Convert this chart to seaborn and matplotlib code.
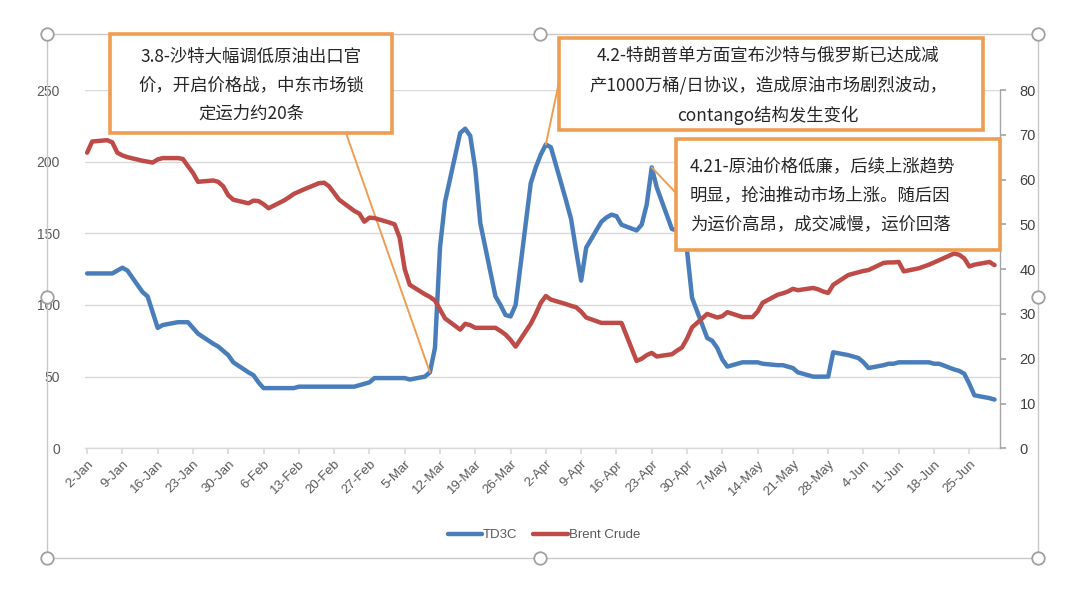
import numpy as np
import pandas as pd
import matplotlib
matplotlib.use("Agg")
import matplotlib.pyplot as plt
import seaborn as sns
from matplotlib.patches import Rectangle
from matplotlib.lines import Line2D

# ---------------- data ----------------
dates = pd.bdate_range("2020-01-02", "2020-06-30")

td3c_jan = [122, 122, 122, 122, 124, 126, 124, 109, 106, 95, 84, 86, 88, 88, 88, 84, 80, 73, 71, 68, 65, 60]
td3c_feb = [53, 51, 46, 42, 42, 42, 42, 42, 43, 43, 43, 43, 43, 43, 43, 43, 44, 45, 46, 49]
td3c_mar = [49, 49, 49, 49, 48, 50, 53, 70, 140, 172, 220, 223, 218, 195, 157, 106, 100, 93, 92, 100, 185, 196]
td3c_apr = [205, 212, 210, 173, 160, 138, 117, 140, 158, 161, 163, 162, 156, 152, 156, 170, 196, 182, 153, 152, 150, 138]
td3c_may = [105, 77, 75, 70, 62, 57, 60, 60, 60, 60, 59, 58, 58, 57, 56, 53, 50, 50, 50, 50, 67]
td3c_jun = [65, 64, 63, 60, 56, 58, 59, 59, 60, 60, 60, 60, 60, 59, 59, 55, 54, 52, 45, 37, 35, 34]

brent_jan = [66, 68.5, 68.8, 68.3, 66, 65.4, 65, 64.2, 64, 63.8, 64.5, 64.8, 64.8, 64.6, 63, 61.5, 59.5, 59.8, 59.5, 58.5, 56.5, 55.5]
brent_feb = [54.7, 55.3, 55.2, 54.5, 53.6, 55.3, 56, 56.8, 57.3, 57.8, 59.2, 59.3, 58.5, 57, 55.5, 53, 52.4, 50.6, 51.5, 51.4]
brent_mar = [50.4, 50, 47, 40, 36.5, 34.4, 33.8, 33, 31, 29, 26.5, 27.8, 27.5, 26.9, 26.9, 26.9, 26.2, 25.4, 24.2, 22.7, 27.8, 30]
brent_apr = [32.5, 34, 33.2, 32.2, 31.8, 31.5, 30.5, 29.2, 28, 28, 28, 28, 28, 19.5, 20, 20.8, 21.3, 20.5, 21, 21.8, 22.5, 24.5]
brent_may = [27, 30, 29.6, 29.2, 29.5, 30.4, 29.3, 29.3, 29.3, 30.5, 32.5, 34.3, 34.6, 35, 35.6, 35.3, 35.8, 35.5, 35, 34.7, 36.5]
brent_jun = [38.7, 39, 39.3, 39.6, 39.8, 41.4, 41.5, 41.5, 41.6, 39.5, 40.2, 40.6, 41, 41.5, 42, 43.5, 43.2, 42.4, 40.6, 41, 41.6, 40.9]

td3c = td3c_jan + td3c_feb + td3c_mar + td3c_apr + td3c_may + td3c_jun
brent = brent_jan + brent_feb + brent_mar + brent_apr + brent_may + brent_jun

left_ticks = [0, 50, 100, 150, 200, 250]
right_ticks = [0, 10, 20, 30, 40, 50, 60, 70, 80]
xtick_dates = pd.date_range("2020-01-02", "2020-06-25", freq="7D")
xtick_labels = [f"{d.day}-{d.strftime('%b')}" for d in xtick_dates]

series_names = ["TD3C", "Brent Crude"]

note1 = "3.8-沙特大幅调低原油出口官\n价，开启价格战，中东市场锁\n定运力约20条"
note2 = "4.2-特朗普单方面宣布沙特与俄罗斯已达成减\n产1000万桶/日协议，造成原油市场剧烈波动，\ncontango结构发生变化"
note3 = "4.21-原油价格低廉，后续上涨趋势\n明显，抢油推动市场上涨。随后因\n为运价高昂，成交减慢，运价回落"
note_dates = ["2020-03-10", "2020-04-02", "2020-04-23"]

df = pd.DataFrame({"date": dates, "TD3C": td3c, "Brent Crude": brent})

# ---------------- style ----------------
sns.set_theme(style="white")
plt.rcParams["font.family"] = ["Liberation Sans", "DejaVu Sans"]
CJK = ["Noto Sans CJK SC", "DejaVu Sans"]

W, H = 1080, 595
BLUE = "#4A7EBB"
RED = "#BE4B48"
ORANGE = "#EE9D52"
GREY_TXT = "#595959"
GRID = "#D9D9D9"


def fx(px):
    return px / W


def fy(py):
    return 1 - py / H


fig = plt.figure(figsize=(W / 100, H / 100), dpi=100)
ax = fig.add_axes([fx(85), fy(448.3), (1000 - 85) / W, (448.3 - 90) / H])
ax2 = ax.twinx()

sns.lineplot(data=df, x="date", y="TD3C", ax=ax, color=BLUE, linewidth=3.2, legend=False)
sns.lineplot(data=df, x="date", y="Brent Crude", ax=ax2, color=RED, linewidth=3.2, legend=False)

ax.set_ylim(0, 250)
ax2.set_ylim(0, 80)
ax.set_xlim(pd.Timestamp("2020-01-01 14:00"), pd.Timestamp("2020-07-01 02:00"))

ax.set_yticks(left_ticks)
ax.set_yticklabels([str(t) for t in left_ticks])
ax2.set_yticks(right_ticks)
ax2.set_yticklabels([str(t) for t in right_ticks])
ax.set_xticks(xtick_dates)
ax.set_xticklabels(xtick_labels, rotation=45, ha="right", rotation_mode="anchor")

ax.set_xlabel("")
ax.set_ylabel("")
ax2.set_ylabel("")

ax.grid(axis="y", color=GRID, linewidth=1.0)
ax.set_axisbelow(True)
for s in ["top", "right", "left"]:
    ax.spines[s].set_visible(False)
ax.spines["bottom"].set_color(GRID)
ax.spines["bottom"].set_linewidth(1.0)
for s in ["top", "left", "bottom"]:
    ax2.spines[s].set_visible(False)
ax2.spines["right"].set_color("#A6A6A6")
ax2.spines["right"].set_linewidth(1.0)

ax.tick_params(axis="x", colors=GRID, labelcolor=GREY_TXT, labelsize=9.5, length=4, pad=3, direction="out", bottom=True)
ax.tick_params(axis="y", left=False, labelcolor=GREY_TXT, labelsize=10, pad=12)
ax2.tick_params(axis="y", right=True, colors="#A6A6A6", labelcolor="#404040", labelsize=10.5, length=4, pad=10)

# ---------------- legend ----------------
handles = [Line2D([], [], color=BLUE, lw=3.2), Line2D([], [], color=RED, lw=3.2)]
leg = fig.legend(handles, series_names, loc="center", bbox_to_anchor=(fx(544), fy(535)), ncol=2,
                 frameon=False, fontsize=9.5, handlelength=2.6, handletextpad=0.1, columnspacing=1.2)
for t in leg.get_texts():
    t.set_color(GREY_TXT)

# ---------------- selection frame ----------------
fig.add_artist(Rectangle((fx(47), fy(558)), (1038 - 47) / W, (558 - 34) / H, transform=fig.transFigure,
                         fill=False, edgecolor="#C8C8C8", linewidth=1.0, zorder=0.5))
hx = [47, 540, 1038, 47, 1038, 47, 540, 1038]
hy = [34, 34, 34, 297, 297, 558, 558, 558]
fig.add_artist(Line2D([fx(v) for v in hx], [fy(v) for v in hy], transform=fig.transFigure, ls="none",
                      marker="o", markersize=9, markerfacecolor="white", markeredgecolor="#A0A0A0",
                      markeredgewidth=1.3, zorder=6))

# ---------------- annotations ----------------
boxes = [
    (110, 34, 392, 133),
    (559, 38, 983, 130),
    (676, 139, 1000, 250),
]
for (x0, y0, x1, y1) in boxes:
    fig.add_artist(Rectangle((fx(x0), fy(y1)), (x1 - x0) / W, (y1 - y0) / H, transform=fig.transFigure,
                             facecolor="white", edgecolor=ORANGE, linewidth=2.6, zorder=3))

fig.text(fx(251), fy(85), note1, ha="center", va="center", multialignment="center", fontsize=12.5,
         linespacing=1.75, family=CJK, color="#262626", zorder=4)
fig.text(fx(768), fy(86), note2, ha="center", va="center", multialignment="center", fontsize=12.5,
         linespacing=1.75, family=CJK, color="#262626", zorder=4)
fig.text(fx(690), fy(195), note3, ha="left", va="center", multialignment="left", fontsize=12.5,
         linespacing=1.8, family=CJK, color="#262626", zorder=4)

starts = [(346, 133), (559, 82), (676, 193)]
for d, (sx, sy) in zip(note_dates, starts):
    ts = pd.Timestamp(d)
    val = df.loc[df["date"] == ts, "TD3C"].iloc[0]
    ax.annotate("", xy=(ts, val), xycoords="data", xytext=(fx(sx), fy(sy)), textcoords="figure fraction",
                arrowprops=dict(arrowstyle="-", color=ORANGE, lw=1.4, shrinkA=0, shrinkB=0),
                annotation_clip=False, zorder=2)

fig.savefig("out.png", dpi=100)
